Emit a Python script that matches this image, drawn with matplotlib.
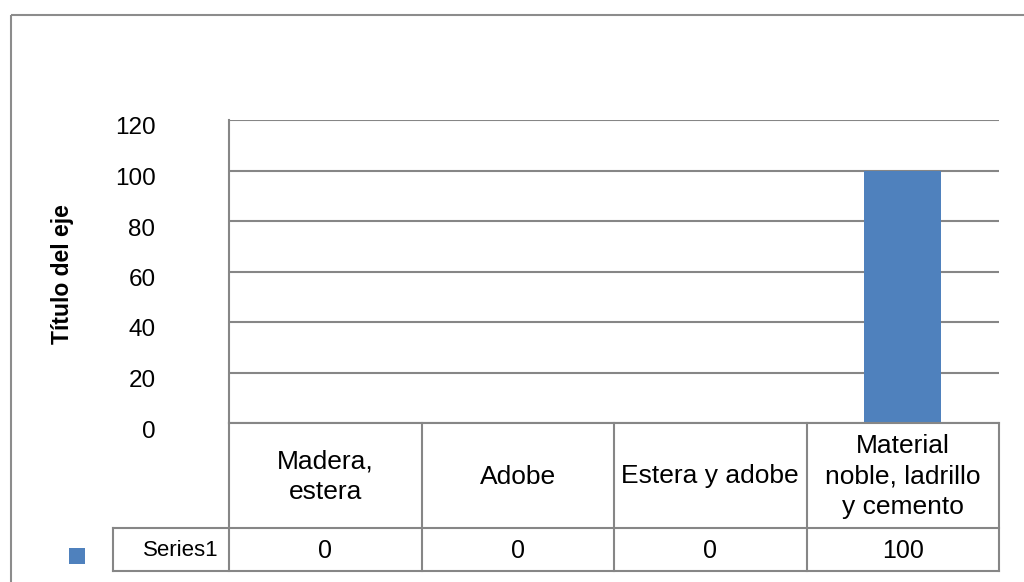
import matplotlib
matplotlib.use("Agg")
import matplotlib.pyplot as plt
from matplotlib.transforms import ScaledTranslation
from matplotlib.patches import Rectangle

# Data
categories = ["Madera,\nestera", "Adobe", "Estera y adobe",
              "Material\nnoble, ladrillo\ny cemento"]
series_name = "Series1"
values = [0, 0, 0, 100]
y_ticks = [0, 20, 40, 60, 80, 100, 120]
y_label = "Título del eje"

BAR_COLOR = "#4F81BD"
LINE_COLOR = "#868686"
FONT = ["Liberation Sans", "DejaVu Sans"]

W, H = 1024, 582
fig = plt.figure(figsize=(W / 100, H / 100), dpi=100)

# plot area in pixel units (left, right, top, bottom)
PL, PR, PT, PB = 229, 999, 120, 423
ax = fig.add_axes([PL / W, 1 - PB / H, (PR - PL) / W, (PB - PT) / H])

n = len(categories)
xpos = [i + 0.5 for i in range(n)]
ax.bar(xpos, values, width=0.4, color=BAR_COLOR, zorder=3)
ax.set_xlim(0, n)
ax.set_ylim(0, 120)
ax.set_yticks(y_ticks)
ax.set_yticklabels([str(t) for t in y_ticks], fontsize=17.5, family=FONT)
ax.tick_params(axis="y", length=0, pad=53)
offset = ScaledTranslation(0, -6 / 100, fig.dpi_scale_trans)
for lab in ax.get_yticklabels():
    lab.set_transform(lab.get_transform() + offset)
ax.set_xticks([])
ax.grid(axis="y", color=LINE_COLOR, linewidth=1.5, zorder=0)
for side in ("top", "right", "bottom"):
    ax.spines[side].set_visible(False)
ax.spines["left"].set_color(LINE_COLOR)
ax.spines["left"].set_linewidth(1.5)
ax.set_facecolor("none")

# overlays in pixel coordinates for the frame, data table and axis title
ov = fig.add_axes([0, 0, 1, 1], zorder=-1)
ov.set_xlim(0, W)
ov.set_ylim(H, 0)
ov.axis("off")
ov2 = fig.add_axes([0, 0, 1, 1], zorder=5)
ov2.set_xlim(0, W)
ov2.set_ylim(H, 0)
ov2.axis("off")
ov2.patch.set_alpha(0)

# outer chart frame (runs past the right and bottom edges)
ov.add_patch(Rectangle((10.5, 14.5), 1040, 600, fill=False,
                       edgecolor="#8C8C8C", linewidth=1.5))

# data table below the plot
ROW1_B, ROW2_B = 528, 571
LBL_L = 113
colw = (PR - PL) / n
lk = dict(color=LINE_COLOR, linewidth=1.5, solid_capstyle="projecting")
ov2.plot([PL, PR], [PB, PB], **lk)
ov2.plot([LBL_L, PR], [ROW1_B, ROW1_B], **lk)
ov2.plot([LBL_L, PR], [ROW2_B, ROW2_B], **lk)
ov2.plot([LBL_L, LBL_L], [ROW1_B, ROW2_B], **lk)
ov2.plot([PL, PL], [PB, ROW2_B], **lk)
for i in range(1, n + 1):
    x = PL + i * colw
    ov2.plot([x, x], [PB, ROW2_B], **lk)

for i, (cat, v) in enumerate(zip(categories, values)):
    cx = PL + (i + 0.5) * colw
    ov2.text(cx, (PB + ROW1_B) / 2 + 1, cat, ha="center", va="center",
             fontsize=19, family=FONT, linespacing=1.32, multialignment="center")
    ov2.text(cx, (ROW1_B + ROW2_B) / 2 + 1, f"{v:g}", ha="center", va="center",
             fontsize=18, family=FONT)

ov2.text(PL - 10, (ROW1_B + ROW2_B) / 2 + 1, series_name, ha="right", va="center",
         fontsize=16, family=FONT)
ov2.add_patch(Rectangle((69, 548), 16, 16, facecolor=BAR_COLOR, edgecolor="none"))

ov2.text(62, 274, y_label, rotation=90, ha="center", va="center",
         fontsize=16.5, fontweight="bold", family=FONT)

fig.savefig("out.png", dpi=100, facecolor="white")
